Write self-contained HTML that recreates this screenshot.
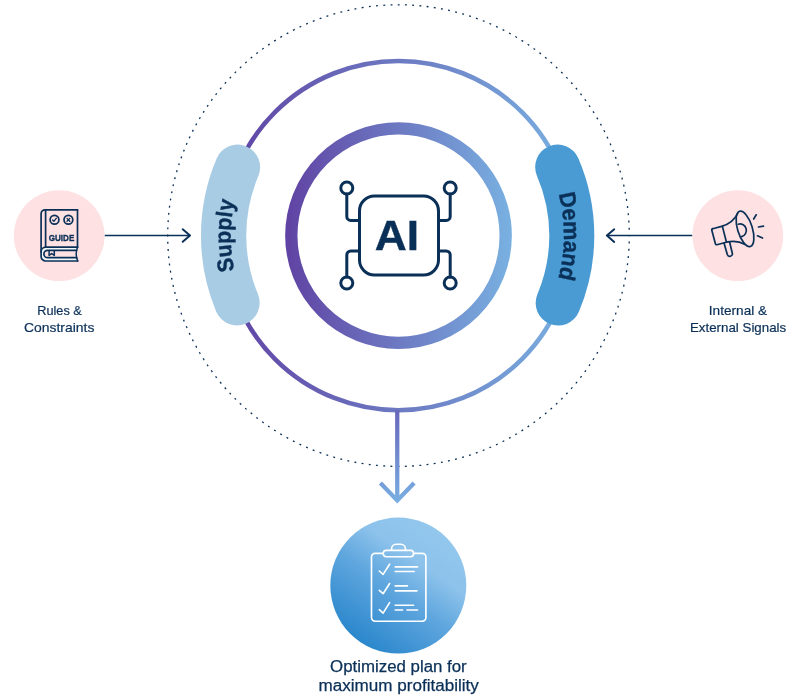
<!DOCTYPE html>
<html lang="en">
<head>
<meta charset="utf-8">
<title>AI planning diagram</title>
<style>
html,body{margin:0;padding:0;background:#fff;}
body{width:800px;height:700px;overflow:hidden;font-family:"Liberation Sans",sans-serif;}
svg{display:block;will-change:transform;}
text{font-family:"Liberation Sans",sans-serif;fill:#0B3057;}
.lbl{font-size:12.6px;text-anchor:middle;stroke:#0B3057;stroke-width:0.2px;}
.lbl2{font-size:16px;text-anchor:middle;stroke:#0B3057;stroke-width:0.25px;}
.ic{fill:none;stroke:#0B3057;stroke-width:1.7;stroke-linecap:round;stroke-linejoin:round;}
.wic{fill:none;stroke:#fff;stroke-width:1.65;stroke-linecap:round;stroke-linejoin:round;}
</style>
</head>
<body>
<svg width="800" height="700" viewBox="0 0 800 700">
<defs>
<linearGradient id="gIn" gradientUnits="userSpaceOnUse" x1="285" y1="0" x2="512" y2="0">
<stop offset="0" stop-color="#6042A3"/><stop offset="1" stop-color="#79B1E1"/>
</linearGradient>
<linearGradient id="gOut" gradientUnits="userSpaceOnUse" x1="224" y1="0" x2="573" y2="0">
<stop offset="0" stop-color="#6042A3"/><stop offset="1" stop-color="#79B1E1"/>
</linearGradient>
<linearGradient id="gArr" gradientUnits="userSpaceOnUse" x1="390" y1="410" x2="405" y2="504">
<stop offset="0" stop-color="#6866BB"/><stop offset="1" stop-color="#7AB0E3"/>
</linearGradient>
<linearGradient id="gBlue" gradientUnits="userSpaceOnUse" x1="359" y1="641.7" x2="437.6" y2="529.5">
<stop offset="0" stop-color="#2A87CC"/><stop offset="0.45" stop-color="#5FA6DE"/><stop offset="0.72" stop-color="#8CC2EB"/><stop offset="1" stop-color="#93C7ED"/>
</linearGradient>
<path id="tpD" d="M541.74 152.90 A165.4 165.4 0 0 1 541.74 318.30"/>
<path id="tpS" d="M253.27 319.45 A167.7 167.7 0 0 1 253.27 151.75"/>
</defs>

<!-- dotted outer circle -->
<circle cx="398.5" cy="235.6" r="230.8" fill="none" stroke="#0B3057" stroke-width="1.3" stroke-dasharray="1.9 5.3508" stroke-dashoffset="1.2"/>

<!-- rings -->
<circle cx="398.5" cy="235.6" r="174.6" fill="none" stroke="url(#gOut)" stroke-width="4.6"/>
<circle cx="398.5" cy="235.6" r="107.2" fill="none" stroke="url(#gIn)" stroke-width="12.3"/>

<!-- pills -->
<path d="M237.50 167.26 A174.9 174.9 0 0 0 237.03 302.81" fill="none" stroke="#A9CCE5" stroke-width="45.3" stroke-linecap="round"/>
<path d="M557.67 167.05 A173.3 173.3 0 0 1 558.14 303.04" fill="none" stroke="#4A9BD4" stroke-width="45" stroke-linecap="round"/>
<text font-size="22.6" font-weight="700" text-anchor="middle" stroke="#0B3057" stroke-width="0.4"><textPath href="#tpS" startOffset="50%" textLength="70.5" lengthAdjust="spacingAndGlyphs">Supply</textPath></text>
<text font-size="23" font-weight="700" text-anchor="middle" stroke="#0B3057" stroke-width="0.4"><textPath href="#tpD" startOffset="50.35%" textLength="85.5" lengthAdjust="spacingAndGlyphs">Demand</textPath></text>

<!-- AI chip -->
<g fill="none" stroke="#0B3057" stroke-width="3" stroke-linecap="round" stroke-linejoin="round">
<rect x="359.5" y="196" width="79" height="79" rx="15" ry="15"/>
<circle cx="346.8" cy="188" r="6"/>
<circle cx="450.2" cy="188" r="6"/>
<circle cx="346.8" cy="283" r="6"/>
<circle cx="450.2" cy="283" r="6"/>
<path d="M346.8 194 V216.4 a4 4 0 0 0 4 4 H359.5"/>
<path d="M450.2 194 V216.4 a4 4 0 0 1 -4 4 H438.5"/>
<path d="M346.8 277 V255 a4 4 0 0 1 4 -4 H359.5"/>
<path d="M450.2 277 V255 a4 4 0 0 0 -4 -4 H438.5"/>
</g>
<text transform="translate(396.8 250.4) scale(1.055 1)" font-size="42" font-weight="700" text-anchor="middle" stroke="#0B3057" stroke-width="0.4">AI</text>

<!-- left node -->
<circle cx="59.2" cy="235.7" r="45.4" fill="#FDE1E3"/>
<g class="ic">
<path d="M77.5 247.2 H45.7 a4.6 4.6 0 0 0 -4.6 4.6 V256.4 a4.6 4.6 0 0 0 4.6 4.6 H77.6 Q75 254.1 77.5 247.2 Z" fill="#F1F6FB" stroke="none"/>
<path d="M76.4 250.3 H47.6 a3.7 3.7 0 0 0 0 7.4 H76.4 Z" fill="#FDE1E3" stroke="none"/>
<path d="M77.5 209.8 H45.1 a4 4 0 0 0 -4 4 V256.4 a4.6 4.6 0 0 0 4.6 4.6 H77.7"/>
<path d="M45.6 209.8 V247.2 M77.5 209.8 V247.2"/>
<path d="M77.5 247.2 H45.7 a4.6 4.6 0 0 0 -4.6 4.6"/>
<path d="M76.6 250.3 H47.6 a3.7 3.7 0 0 0 0 7.4 H76.6"/>
<path d="M77.5 247.2 Q74.8 254.1 77.7 261" stroke-width="1.5"/>
<path d="M49.1 251 v4.4 l2.6 -1.9 l2.6 1.9 v-4.4" stroke-width="1.5"/>
<circle cx="54.5" cy="219.8" r="4.4"/>
<circle cx="68.4" cy="219.8" r="4.4"/>
<path d="M52.6 220 l1.3 1.4 l2.5 -3.2" stroke-width="1.3"/>
<path d="M67 218.4 l2.8 2.8 M69.8 218.4 l-2.8 2.8" stroke-width="1.3"/>
</g>
<text x="61.5" y="240.5" font-size="8.2" font-weight="700" text-anchor="middle" textLength="25.6" lengthAdjust="spacingAndGlyphs" stroke="#0B3057" stroke-width="0.3">GUIDE</text>
<text class="lbl" x="59.5" y="315.3" textLength="44.6" lengthAdjust="spacingAndGlyphs">Rules &amp;</text>
<text class="lbl" x="59.2" y="331.9" textLength="70.4" lengthAdjust="spacingAndGlyphs">Constraints</text>
<path d="M104.8 235.5 H190" fill="none" stroke="#0B3057" stroke-width="1.3"/>
<path d="M182.7 229.3 L190 235.5 L182.7 241.8" fill="none" stroke="#0B3057" stroke-width="2" stroke-linecap="round" stroke-linejoin="round"/>

<!-- right node -->
<circle cx="737.8" cy="235.7" r="45.4" fill="#FDE1E3"/>
<g class="ic">
<path d="M712.7 228.7 L721.6 226.4 Q733 223 737.6 213.6"/>
<path d="M712.7 228.7 a1.2 1.2 0 0 0 -0.9 1.5 L715.4 243.8 a1.2 1.2 0 0 0 1.5 0.9 L726.3 242.2 Q737 239.8 744.6 244.3"/>
<path d="M722.4 226.4 L726.4 242"/>
<ellipse cx="745" cy="228.9" rx="7.4" ry="18.4" transform="rotate(-17 745 228.9)"/>
<path d="M738.3 224.2 a6.4 6.4 0 0 1 3.3 12.4"/>
<path d="M724 243 L727.3 254.6 a2.6 2.6 0 0 0 5 -1.4 L729.6 242"/>
<path d="M756.2 214.8 L753.7 219 M763.5 226.2 L758.5 227 M762.5 238 L757.5 235.8"/>
</g>
<text class="lbl" x="738" y="315.4" textLength="58.4" lengthAdjust="spacingAndGlyphs">Internal &amp;</text>
<text class="lbl" x="738.1" y="331.8" textLength="96.3" lengthAdjust="spacingAndGlyphs">External Signals</text>
<path d="M692.2 235.5 H607" fill="none" stroke="#0B3057" stroke-width="1.3"/>
<path d="M614.2 229.3 L606.9 235.5 L614.2 241.9" fill="none" stroke="#0B3057" stroke-width="2" stroke-linecap="round" stroke-linejoin="round"/>

<!-- down arrow -->
<path d="M397.25 410 V501" fill="none" stroke="url(#gArr)" stroke-width="4.3"/>
<path d="M380.4 483 L397.25 500.4 L414.1 483" fill="none" stroke="url(#gArr)" stroke-width="4.3" stroke-linejoin="miter"/>

<!-- bottom node -->
<circle cx="398.3" cy="585.6" r="68" fill="url(#gBlue)"/>
<g class="wic">
<rect x="371.5" y="553.4" width="54.4" height="67.8" rx="3.6"/>
<path d="M391.6 550.4 v-1.6 a4.6 4.6 0 0 1 4.6 -4.6 h4.6 a4.6 4.6 0 0 1 4.6 4.6 v1.6"/>
<rect x="383.2" y="550.4" width="30.4" height="6.3" rx="3.15" fill="url(#gBlue)"/>
<path d="M379.3 571 L383.1 574.4 L389.6 564.2"/>
<path d="M379.3 590.3 L383.1 593.7 L389.6 583.5"/>
<path d="M379.3 609.7 L383.1 613.1 L389.6 602.6"/>
<path d="M395.2 566.9 H417.6 M395.2 571.5 H414.2 M395.2 585.9 H407.4 M395.2 590.8 H417 M395.2 605.2 H413.6 M395.2 610 H402.6 M407 610 H417.6"/>
</g>
<text class="lbl2" x="398.4" y="672" textLength="136.6" lengthAdjust="spacingAndGlyphs">Optimized plan for</text>
<text class="lbl2" x="398.7" y="690.5" textLength="160.3" lengthAdjust="spacingAndGlyphs">maximum profitability</text>
</svg>
</body>
</html>
